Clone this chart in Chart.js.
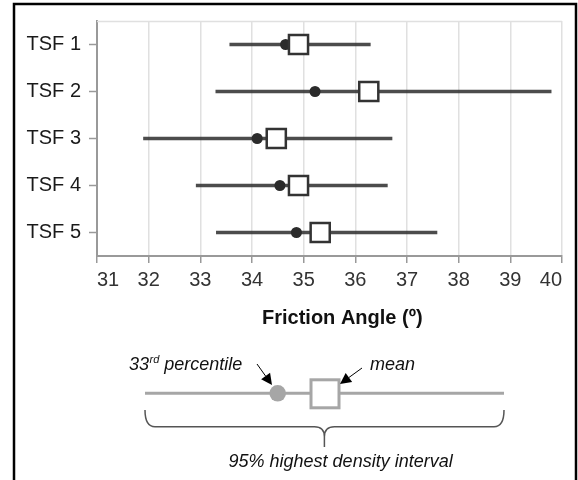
<!DOCTYPE html>
<html>
<head>
<meta charset="utf-8">
<script src="https://cdn.jsdelivr.net/npm/chart.js@4/dist/chart.umd.min.js"></script>
<style>
  html, body { margin: 0; padding: 0; background: #fff; }
  #wrap { position: relative; width: 578px; height: 480px; }
</style>
</head>
<body>
<div id="wrap"><canvas id="c" width="578" height="480"></canvas></div>
<script>
// ---- data ----
const categories = ['TSF 1', 'TSF 2', 'TSF 3', 'TSF 4', 'TSF 5'];
const hdiLow  = [33.57, 33.30, 31.90, 32.92, 33.31];   // 95% HDI lower bound
const hdiHigh = [36.29, 39.79, 36.71, 36.62, 37.58];   // 95% HDI upper bound
const pct33   = [34.65, 35.22, 34.10, 34.54, 34.86];   // 33rd percentile
const means   = [34.90, 36.26, 34.47, 34.90, 35.32];   // mean
const xTicksMin = 31, xTicksMax = 40, xStep = 1;
const xTitle = 'Friction Angle (\u00BA)';

const FONT = "'Liberation Sans', Arial, Helvetica, sans-serif";

const extras = {
  id: 'extras',
  afterDraw(chart) {
    const ctx = chart.ctx;
    const ca = chart.chartArea;
    ctx.save();
    // top border of plot area
    ctx.strokeStyle = '#e0e0e0';
    ctx.lineWidth = 1.5;
    ctx.beginPath();
    ctx.moveTo(ca.left, ca.top + 0.5);
    ctx.lineTo(ca.right, ca.top + 0.5);
    ctx.stroke();

    // outer frame
    ctx.strokeStyle = '#000';
    ctx.lineWidth = 2.5;
    ctx.beginPath();
    ctx.moveTo(14, 482);
    ctx.lineTo(14, 4);
    ctx.lineTo(576, 4);
    ctx.lineTo(576, 482);
    ctx.stroke();

    // x axis title
    ctx.fillStyle = '#111';
    ctx.font = 'bold 20px ' + FONT;
    ctx.textAlign = 'left';
    ctx.textBaseline = 'alphabetic';
    ctx.fillText(xTitle, 262, 324);

    // ---- key ----
    const gy = 393.3;
    ctx.strokeStyle = '#a6a6a6';
    ctx.lineWidth = 3;
    ctx.beginPath();
    ctx.moveTo(145, gy);
    ctx.lineTo(504, gy);
    ctx.stroke();
    ctx.fillStyle = '#a6a6a6';
    ctx.beginPath();
    ctx.arc(277.7, gy, 8.3, 0, Math.PI * 2);
    ctx.fill();
    ctx.fillStyle = '#fff';
    ctx.fillRect(311, gy - 13.5, 28, 28);
    ctx.strokeRect(311, gy - 13.5, 28, 28);

    // arrows
    function arrow(x1, y1, x2, y2) {
      const ang = Math.atan2(y2 - y1, x2 - x1);
      const hl = 11, hw = 5.5;
      const bx = x2 - hl * Math.cos(ang), by = y2 - hl * Math.sin(ang);
      ctx.strokeStyle = '#000';
      ctx.lineWidth = 1;
      ctx.beginPath();
      ctx.moveTo(x1, y1);
      ctx.lineTo(bx, by);
      ctx.stroke();
      ctx.fillStyle = '#000';
      ctx.beginPath();
      ctx.moveTo(x2, y2);
      ctx.lineTo(bx + hw * Math.sin(ang), by - hw * Math.cos(ang));
      ctx.lineTo(bx - hw * Math.sin(ang), by + hw * Math.cos(ang));
      ctx.closePath();
      ctx.fill();
    }
    arrow(257, 364, 272, 385);
    arrow(362, 368, 340, 384);

    // labels
    ctx.fillStyle = '#111';
    ctx.textBaseline = 'alphabetic';
    ctx.textAlign = 'left';
    ctx.font = 'italic 18px ' + FONT;
    let x = 129;
    ctx.fillText('33', x, 370);
    x += ctx.measureText('33').width;
    ctx.font = 'italic 11px ' + FONT;
    ctx.fillText('rd', x + 0.5, 363);
    x += ctx.measureText('rd').width + 0.5;
    ctx.font = 'italic 18px ' + FONT;
    ctx.fillText(' percentile', x, 370);
    ctx.fillText('mean', 370, 370);
    ctx.textAlign = 'center';
    ctx.fillText('95% highest density interval', 340.6, 467);

    // brace
    ctx.strokeStyle = '#555';
    ctx.lineWidth = 1.5;
    const bl = 145, br = 504, bm = 324.4, bt = 410, bh = 426.7, bb = 447;
    ctx.beginPath();
    ctx.moveTo(bl, bt);
    ctx.quadraticCurveTo(bl, bh, bl + 10, bh);
    ctx.lineTo(bm - 10, bh);
    ctx.quadraticCurveTo(bm, bh, bm, bh + 10);
    ctx.lineTo(bm, bb);
    ctx.moveTo(br, bt);
    ctx.quadraticCurveTo(br, bh, br - 10, bh);
    ctx.lineTo(bm + 10, bh);
    ctx.quadraticCurveTo(bm, bh, bm, bh + 10);
    ctx.stroke();
    ctx.restore();
  }
};

new Chart(document.getElementById('c'), {
  type: 'bar',
  data: {
    labels: categories,
    datasets: [
      {
        type: 'line',
        label: 'Mean',
        data: means,
        showLine: false,
        pointStyle: 'rect',
        pointRadius: 13.5,
        pointBorderWidth: 2.5,
        pointBorderColor: '#333',
        pointBackgroundColor: '#fff',
        order: 1
      },
      {
        type: 'line',
        label: '33rd percentile',
        data: pct33,
        showLine: false,
        pointStyle: 'circle',
        pointRadius: 5.5,
        pointBorderWidth: 0,
        pointBackgroundColor: '#2b2b2b',
        order: 2
      },
      {
        type: 'bar',
        label: '95% HDI',
        data: hdiLow.map((v, i) => [v, hdiHigh[i]]),
        backgroundColor: 'rgba(45,45,45,0.85)',
        borderWidth: 0,
        barThickness: 3,
        order: 3
      }
    ]
  },
  options: {
    indexAxis: 'y',
    responsive: false,
    animation: false,
    events: [],
    layout: { padding: { top: 21, right: 11, bottom: 184, left: 0 } },
    plugins: { legend: { display: false }, tooltip: { enabled: false } },
    scales: {
      x: {
        type: 'linear',
        min: xTicksMin,
        max: xTicksMax,
        afterFit: (s) => { s.height = 40; },
        ticks: {
          stepSize: xStep,
          align: 'inner',
          padding: 5,
          color: '#333',
          font: { family: FONT, size: 20 }
        },
        grid: { color: '#e0e0e0', lineWidth: 1.5, tickLength: 7, tickColor: '#999', tickWidth: 1.5 },
        border: { color: '#999', width: 2 }
      },
      y: {
        type: 'category',
        offset: true,
        afterFit: (s) => { s.width = 97; },
        ticks: {
          padding: 8,
          color: '#1a1a1a',
          font: { family: FONT, size: 20 }
        },
        grid: { drawOnChartArea: false, offset: false, tickLength: 8, tickColor: '#999', tickWidth: 1.5 },
        border: { color: '#999', width: 2 }
      }
    }
  },
  plugins: [extras]
});
</script>
</body>
</html>
